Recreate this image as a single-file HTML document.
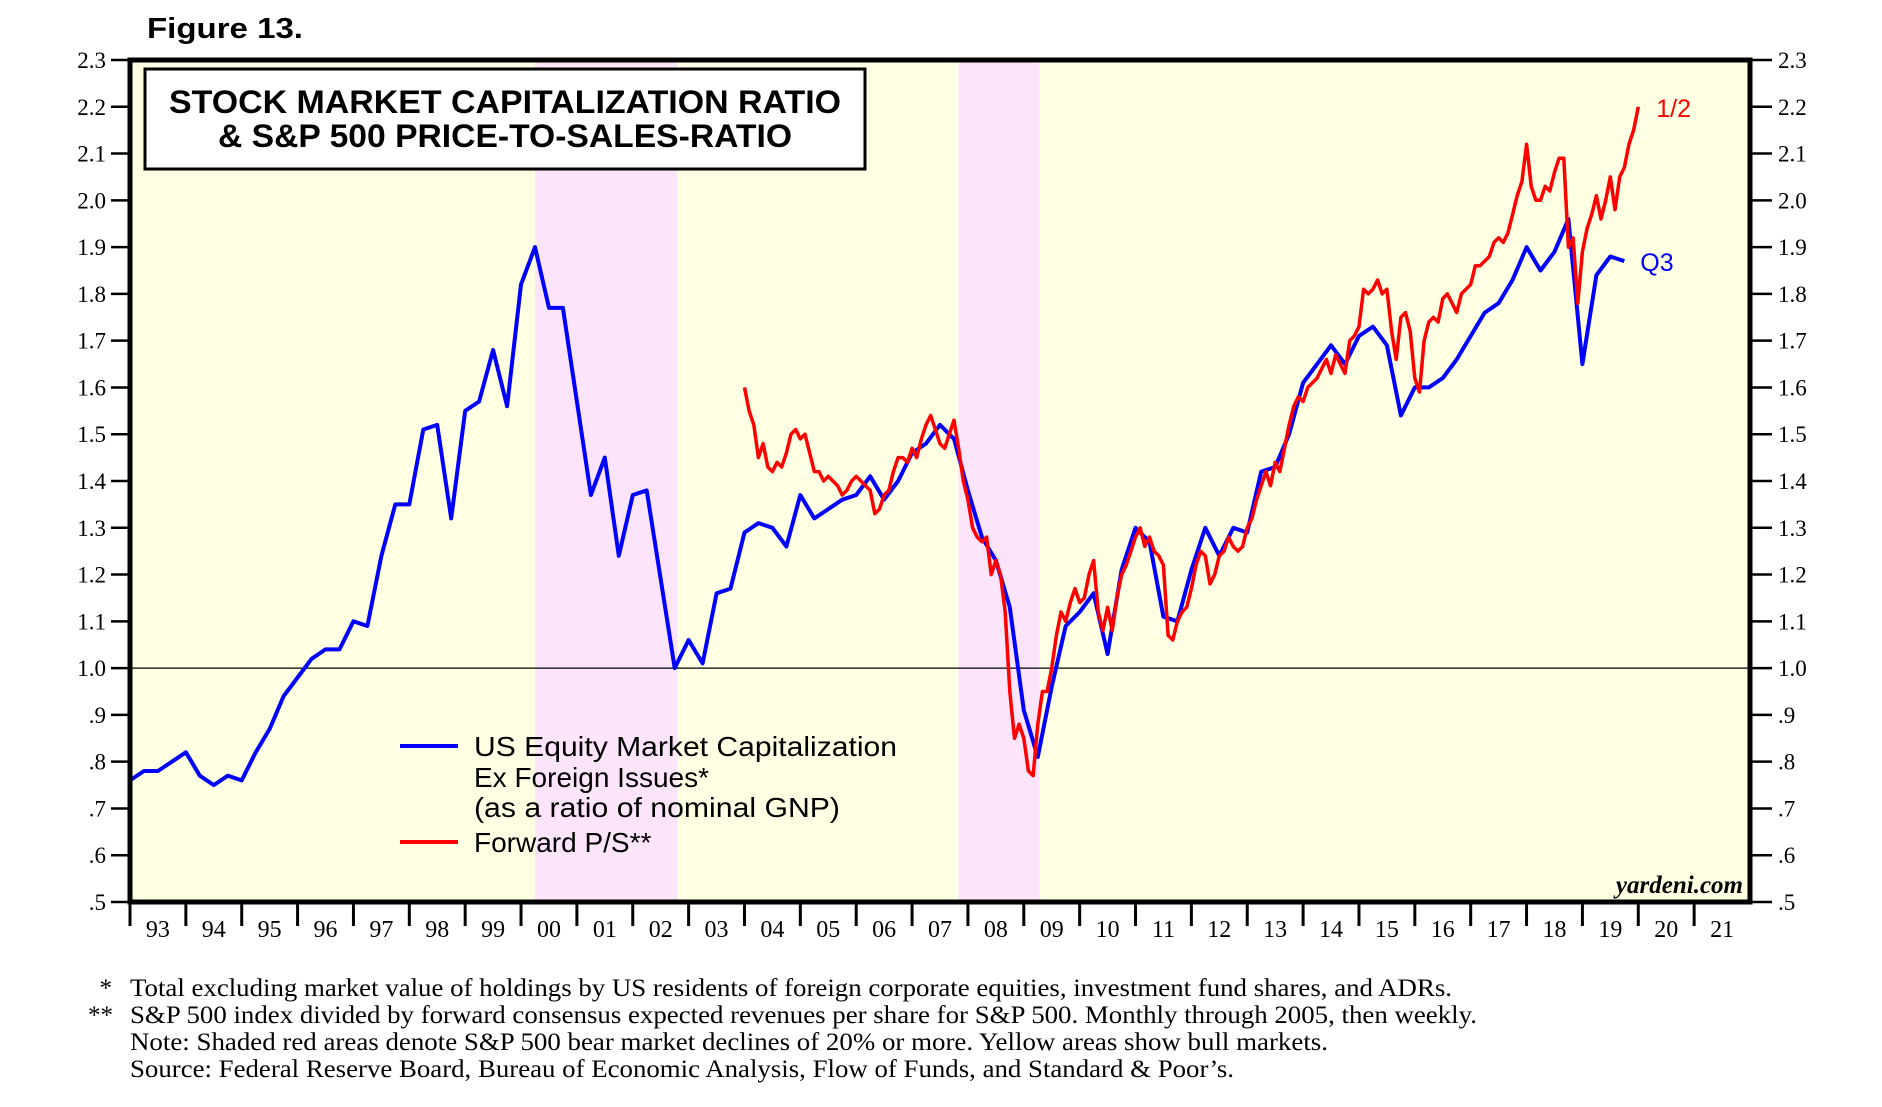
<!DOCTYPE html>
<html><head><meta charset="utf-8"><style>
body{margin:0;background:#fff;}
svg{display:block;}
.ser{font-family:"Liberation Serif",serif;}
.sans{font-family:"Liberation Sans",sans-serif;}
</style></head><body>
<svg id="chart" width="1882" height="1107" viewBox="0 0 1882 1107">
<text x="147" y="38" class="sans" font-size="29" font-weight="bold" textLength="156" lengthAdjust="spacingAndGlyphs">Figure 13.</text>
<g id="plot"></g>
</svg>
<script>
const yTicks=[0.5,0.6,0.7,0.8,0.9,1.0,1.1,1.2,1.3,1.4,1.5,1.6,1.7,1.8,1.9,2.0,2.1,2.2,2.3];
const yTickLabels=[".5",".6",".7",".8",".9","1.0","1.1","1.2","1.3","1.4","1.5","1.6","1.7","1.8","1.9","2.0","2.1","2.2","2.3"];
const yearLabels=["93","94","95","96","97","98","99","00","01","02","03","04","05","06","07","08","09","10","11","12","13","14","15","16","17","18","19","20","21"];
const bearPeriods=[[2000.25,2002.8],[2007.83,2009.28]];
const blueStart=1993.0;
const blueValues=[0.76,0.78,0.78,0.80,0.82,0.77,0.75,0.77,0.76,0.82,0.87,0.94,0.98,1.02,1.04,1.04,1.10,1.09,1.24,1.35,1.35,1.51,1.52,1.32,1.55,1.57,1.68,1.56,1.82,1.90,1.77,1.77,1.57,1.37,1.45,1.24,1.37,1.38,1.19,1.00,1.06,1.01,1.16,1.17,1.29,1.31,1.30,1.26,1.37,1.32,1.34,1.36,1.37,1.41,1.36,1.40,1.46,1.48,1.52,1.49,1.38,1.28,1.23,1.13,0.91,0.81,0.96,1.09,1.12,1.16,1.03,1.21,1.30,1.27,1.11,1.10,1.21,1.30,1.24,1.30,1.29,1.42,1.43,1.50,1.61,1.65,1.69,1.65,1.71,1.73,1.69,1.54,1.60,1.60,1.62,1.66,1.71,1.76,1.78,1.83,1.90,1.85,1.89,1.96,1.65,1.84,1.88,1.87];
const redStart=2004.0;
const redValues=[1.60,1.55,1.52,1.45,1.48,1.43,1.42,1.44,1.43,1.46,1.50,1.51,
1.49,1.50,1.46,1.42,1.42,1.40,1.41,1.40,1.39,1.37,1.38,1.40,
1.41,1.40,1.39,1.38,1.33,1.34,1.37,1.38,1.42,1.45,1.45,1.44,
1.47,1.45,1.49,1.52,1.54,1.51,1.48,1.47,1.50,1.53,1.47,1.40,
1.36,1.30,1.28,1.27,1.28,1.20,1.23,1.20,1.12,0.95,0.85,0.88,
0.85,0.78,0.77,0.88,0.95,0.95,1.00,1.07,1.12,1.10,1.14,1.17,
1.14,1.15,1.20,1.23,1.12,1.08,1.13,1.08,1.15,1.20,1.22,1.25,
1.28,1.30,1.26,1.28,1.25,1.24,1.22,1.07,1.06,1.10,1.12,1.13,
1.17,1.22,1.25,1.24,1.18,1.20,1.24,1.25,1.28,1.26,1.25,1.26,
1.30,1.32,1.36,1.39,1.42,1.39,1.44,1.42,1.47,1.52,1.56,1.58,
1.57,1.60,1.61,1.62,1.64,1.66,1.63,1.67,1.65,1.63,1.70,1.71,
1.73,1.81,1.80,1.81,1.83,1.80,1.81,1.72,1.66,1.75,1.76,1.72,
1.62,1.59,1.70,1.74,1.75,1.74,1.79,1.80,1.78,1.76,1.80,1.81,
1.82,1.86,1.86,1.87,1.88,1.91,1.92,1.91,1.93,1.97,2.01,2.04,
2.12,2.03,2.00,2.00,2.03,2.02,2.06,2.09,2.09,1.90,1.92,1.78,
1.89,1.94,1.97,2.01,1.96,2.00,2.05,1.98,2.05,2.07,2.12,2.15,
2.20];

const L=130,R=1750,T=60,B=902,X0=1993,X1=2022,Y0=0.5,Y1=2.3;
const xs=t=>L+(t-X0)/(X1-X0)*(R-L);
const ys=v=>B-(v-Y0)/(Y1-Y0)*(B-T);
const NS="http://www.w3.org/2000/svg";
const g=document.getElementById('plot');
function mk(tag,attrs,parent){const e=document.createElementNS(NS,tag);for(const k in attrs)e.setAttribute(k,attrs[k]);(parent||g).appendChild(e);return e;}

let e=mk('rect',{x:L,y:T,width:R-L,height:B-T,fill:'#ffffe3'});


bearPeriods.forEach((p,i)=>{
  const r=mk('rect',{x:xs(p[0]),y:T,width:xs(p[1])-xs(p[0]),height:B-T,fill:'#fce4fa'});
  
  
});
e=mk('line',{x1:L,x2:R,y1:ys(1.0),y2:ys(1.0),stroke:'#000','stroke-width':1.2});



yTicks.forEach((v,i)=>{
  const y=ys(v);
  let t=mk('line',{x1:111,x2:L,y1:y,y2:y,stroke:'#000','stroke-width':2.5});
  
  
  t=mk('line',{x1:R,x2:1772,y1:y,y2:y,stroke:'#000','stroke-width':2.5});
  
  
  let tx=mk('text',{x:106,y:y+8,'text-anchor':'end','font-size':23,class:'ser'});
  tx.textContent=yTickLabels[i];
  
  
  tx=mk('text',{x:1778,y:y+8,'font-size':23,class:'ser'});
  tx.textContent=yTickLabels[i];
  
  
});
yearLabels.forEach((lab,i)=>{
  const x=xs(X0+i);
  let t=mk('line',{x1:x,x2:x,y1:B,y2:B+24,stroke:'#000','stroke-width':3});
  
  
  let tx=mk('text',{x:xs(X0+i+0.5),y:B+35,'text-anchor':'middle','font-size':24,class:'ser'});
  tx.textContent=lab;
  
  
});

const bp=blueValues.map((v,i)=>xs(blueStart+i*0.25).toFixed(1)+','+ys(v).toFixed(1)).join(' ');
e=mk('polyline',{points:bp,fill:'none',stroke:'#0000ff','stroke-width':4,'stroke-linejoin':'round'});


const rp=redValues.map((v,i)=>xs(redStart+i/12).toFixed(1)+','+ys(v).toFixed(1)).join(' ');
e=mk('polyline',{points:rp,fill:'none',stroke:'#ff0000','stroke-width':3.5,'stroke-linejoin':'round'});



e=mk('rect',{x:L,y:T,width:R-L,height:B-T,fill:'none',stroke:'#000','stroke-width':5});



const lastB=blueValues.length-1, lastR=redValues.length-1;
e=mk('text',{x:xs(blueStart+lastB*0.25)+16,y:ys(blueValues[lastB])+10,'font-size':25,fill:'#0000ff',class:'sans'});
e.textContent='Q3';


e=mk('text',{x:xs(redStart+lastR/12)+18,y:ys(redValues[lastR])+10,'font-size':25,fill:'#ff0000',class:'sans'});
e.textContent='1/2';


</script>
<svg style="position:absolute;left:0;top:0" width="1882" height="1107">
<g>
<rect x="145" y="69" width="720" height="100" fill="#fff" stroke="#000" stroke-width="3"/>
<text x="169" y="113" class="sans" font-size="32" font-weight="bold" textLength="672" lengthAdjust="spacingAndGlyphs">STOCK MARKET CAPITALIZATION RATIO</text>
<text x="218" y="147" class="sans" font-size="32" font-weight="bold" textLength="574" lengthAdjust="spacingAndGlyphs">&amp; S&amp;P 500 PRICE-TO-SALES-RATIO</text>
</g>
<g class="sans" font-size="28">
<line x1="400" x2="458" y1="746" y2="746" stroke="#0000ff" stroke-width="4"/>
<text x="474" y="756" textLength="423" lengthAdjust="spacingAndGlyphs">US Equity Market Capitalization</text>
<text x="474" y="787">Ex Foreign Issues*</text>
<text x="474" y="817" textLength="366" lengthAdjust="spacingAndGlyphs">(as a ratio of nominal GNP)</text>
<line x1="400" x2="458" y1="842" y2="842" stroke="#ff0000" stroke-width="4"/>
<text x="474" y="852">Forward P/S**</text>
</g>
<text x="1743" y="893" text-anchor="end" class="ser" font-size="25" font-style="italic" font-weight="bold">yardeni.com</text>
<g class="ser" font-size="25">
<text x="112" y="996" text-anchor="end">*</text>
<text x="130" y="996" textLength="1322" lengthAdjust="spacingAndGlyphs">Total excluding market value of holdings by US residents of foreign corporate equities, investment fund shares, and ADRs.</text>
<text x="113" y="1023" text-anchor="end">**</text>
<text x="130" y="1023" textLength="1347" lengthAdjust="spacingAndGlyphs">S&amp;P 500 index divided by forward consensus expected revenues per share for S&amp;P 500. Monthly through 2005, then weekly.</text>
<text x="130" y="1050" textLength="1198" lengthAdjust="spacingAndGlyphs">Note: Shaded red areas denote S&amp;P 500 bear market declines of 20% or more. Yellow areas show bull markets.</text>
<text x="130" y="1077" textLength="1104" lengthAdjust="spacingAndGlyphs">Source: Federal Reserve Board, Bureau of Economic Analysis, Flow of Funds, and Standard &amp; Poor’s.</text>
</g>
</svg>
</body></html>
